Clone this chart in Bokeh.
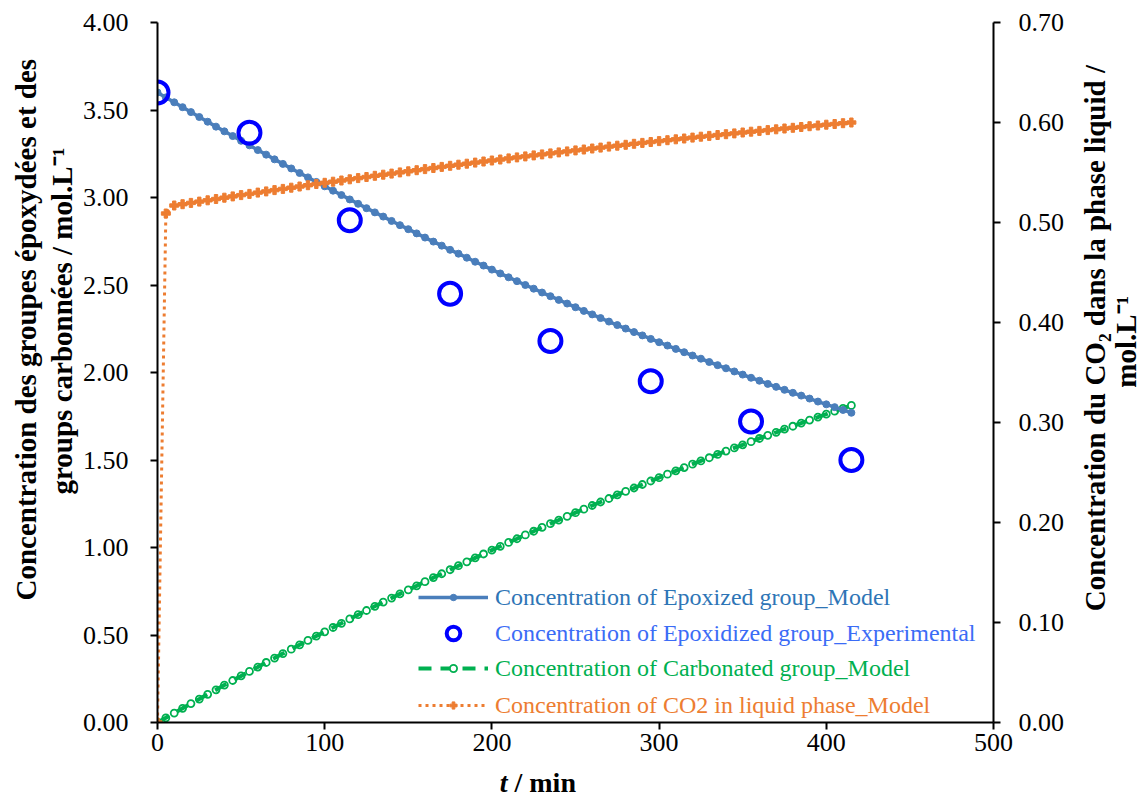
from bokeh.plotting import figure
from bokeh.models import (Range1d, LinearAxis, Legend, LegendItem, Title,
                          FixedTicker, NumeralTickFormatter)
from bokeh.layouts import row, column
from bokeh.core.properties import value
from bokeh.embed import file_html
from bokeh.resources import INLINE
import math

# ---------------- data ----------------
t_model = list(range(0, 420, 5))

epoxy_model = [
    3.600, 3.572, 3.544, 3.516, 3.488, 3.460, 3.433, 3.405, 3.378, 3.351,
    3.324, 3.298, 3.271, 3.245, 3.218, 3.192, 3.166, 3.140, 3.115, 3.089,
    3.064, 3.039, 3.014, 2.989, 2.964, 2.939, 2.915, 2.891, 2.866, 2.842,
    2.819, 2.795, 2.771, 2.748, 2.725, 2.701, 2.679, 2.656, 2.633, 2.611,
    2.588, 2.566, 2.544, 2.522, 2.500, 2.479, 2.457, 2.436, 2.415, 2.394,
    2.373, 2.352, 2.332, 2.311, 2.291, 2.271, 2.251, 2.231, 2.212, 2.192,
    2.173, 2.154, 2.135, 2.116, 2.097, 2.079, 2.060, 2.042, 2.024, 2.006,
    1.988, 1.970, 1.953, 1.935, 1.918, 1.901, 1.884, 1.868, 1.851, 1.834,
    1.818, 1.802, 1.786, 1.770,
]

carbonated_model = [
    0.000, 0.027, 0.054, 0.081, 0.108, 0.134, 0.161, 0.187, 0.214, 0.240,
    0.266, 0.292, 0.317, 0.343, 0.368, 0.394, 0.419, 0.444, 0.469, 0.494,
    0.518, 0.543, 0.567, 0.592, 0.616, 0.640, 0.664, 0.688, 0.711, 0.735,
    0.758, 0.781, 0.805, 0.828, 0.850, 0.873, 0.896, 0.918, 0.941, 0.963,
    0.985, 1.007, 1.029, 1.050, 1.072, 1.093, 1.115, 1.136, 1.157, 1.178,
    1.199, 1.219, 1.240, 1.260, 1.280, 1.301, 1.321, 1.340, 1.360, 1.380,
    1.399, 1.419, 1.438, 1.457, 1.476, 1.495, 1.513, 1.532, 1.551, 1.569,
    1.587, 1.605, 1.623, 1.641, 1.658, 1.676, 1.693, 1.711, 1.728, 1.745,
    1.762, 1.779, 1.795, 1.812,
]

co2_model = [
    0.0000, 0.5090, 0.5170, 0.5183, 0.5196, 0.5209, 0.5222, 0.5235, 0.5248, 0.5261,
    0.5274, 0.5286, 0.5299, 0.5311, 0.5324, 0.5336, 0.5348, 0.5360, 0.5373, 0.5385,
    0.5397, 0.5408, 0.5420, 0.5432, 0.5444, 0.5455, 0.5467, 0.5478, 0.5489, 0.5501,
    0.5512, 0.5523, 0.5534, 0.5545, 0.5556, 0.5567, 0.5578, 0.5588, 0.5599, 0.5610,
    0.5620, 0.5630, 0.5641, 0.5651, 0.5661, 0.5671, 0.5681, 0.5691, 0.5701, 0.5711,
    0.5721, 0.5730, 0.5740, 0.5749, 0.5759, 0.5768, 0.5777, 0.5787, 0.5796, 0.5805,
    0.5814, 0.5823, 0.5832, 0.5840, 0.5849, 0.5858, 0.5866, 0.5875, 0.5883, 0.5891,
    0.5900, 0.5908, 0.5916, 0.5924, 0.5932, 0.5940, 0.5947, 0.5955, 0.5963, 0.5970,
    0.5978, 0.5985, 0.5993, 0.6000,
]

t_exp = [0, 55, 115, 175, 235, 295, 355, 415]
epoxy_exp = [3.60, 3.37, 2.87, 2.45, 2.18, 1.95, 1.72, 1.50]

x_ticks = [0, 100, 200, 300, 400, 500]
left_ticks = [0.0, 0.5, 1.0, 1.5, 2.0, 2.5, 3.0, 3.5, 4.0]
right_ticks = [0.0, 0.1, 0.2, 0.3, 0.4, 0.5, 0.6, 0.7]

labels = [
    "Concentration of Epoxized group_Model",
    "Concentration of Epoxidized group_Experimental",
    "Concentration of Carbonated group_Model",
    "Concentration of CO2 in liquid phase_Model",
]

x_title_var = "t"
x_title_unit = "/ min"
left_title_1 = "Concentration des groupes époxydées et des"
left_title_2 = "groups carbonnées / mol.L⁻¹"
right_title_lines = ["Concentration du CO₂ dans la phase liquid /", "mol.L⁻¹"]

# ---------------- styles ----------------
SERIF = "Liberation Serif"
BLUE_LINE = "#4A7EBB"
BLUE_EXP = "#0000FF"
GREEN = "#00B050"
ORANGE = "#ED7D31"
TICK_SIZE = "26px"
LABEL_SIZE = "29px"
TOTAL_W, TOTAL_H = 1142, 799
MAIN_W = 1070
SIDE_W = TOTAL_W - MAIN_W
MAIN_H = 763
BOTTOM_H = TOTAL_H - MAIN_H

p = figure(width=MAIN_W, height=MAIN_H, output_backend="svg", toolbar_location=None,
           x_range=Range1d(0, 500), y_range=Range1d(0, 4.0),
           min_border_left=157, min_border_right=MAIN_W - 993,
           min_border_top=22, min_border_bottom=MAIN_H - 722)
p.extra_y_ranges = {"co2": Range1d(0, 0.7)}
p.outline_line_color = None
p.grid.visible = False
p.background_fill_color = "white"
p.border_fill_color = "white"


def style_axis(ax, ticks, fmt):
    ax.ticker = FixedTicker(ticks=ticks)
    ax.formatter = NumeralTickFormatter(format=fmt)
    ax.axis_line_color = "black"
    ax.axis_line_width = 2
    ax.major_tick_line_color = "black"
    ax.major_tick_line_width = 2
    ax.major_tick_in = 0
    ax.major_tick_out = 7
    ax.minor_tick_line_color = None
    ax.major_label_text_font = SERIF
    ax.major_label_text_font_size = TICK_SIZE
    ax.major_label_text_color = "black"


style_axis(p.xaxis[0], x_ticks, "0")
p.xaxis[0].major_label_standoff = 4
style_axis(p.yaxis[0], left_ticks, "0.00")
p.yaxis[0].major_label_standoff = 22

right_axis = LinearAxis(y_range_name="co2")
style_axis(right_axis, right_ticks, "0.00")
right_axis.major_label_standoff = 18
p.add_layout(right_axis, "right")

# ---------------- series ----------------
g_sc = p.scatter(t_model, carbonated_model, marker="circle", size=7,
                 line_color=GREEN, line_width=1.8, fill_color="white")
g_ln = p.line(t_model, carbonated_model, line_color=GREEN, line_width=4,
              line_dash="13 9")

b_ln = p.line(t_model, epoxy_model, line_color=BLUE_LINE, line_width=3.5)
b_sc = p.scatter(t_model, epoxy_model, marker="circle", size=7,
                 line_color=BLUE_LINE, fill_color=BLUE_LINE)

o_ln = p.line(t_model, co2_model, line_color=ORANGE, line_width=3,
              line_dash="3 4", y_range_name="co2")
o_sc = p.scatter(t_model, co2_model, marker="plus", size=9,
                 line_color=ORANGE, fill_color=ORANGE, line_width=1,
                 y_range_name="co2")

e_sc = p.scatter(t_exp, epoxy_exp, marker="circle", size=22,
                 line_color=BLUE_EXP, line_width=4, fill_color=None)

# ---------------- legend (one per row, own text colour) ----------------
rows = [
    (labels[0], [b_ln, b_sc], "#2E75B6", 125, 16),
    (labels[1], [e_sc], "#3B6CF6", 89, 34),
    (labels[2], [g_ln, g_sc], GREEN, 54, 18),
    (labels[3], [o_ln, o_sc], ORANGE, 17, 18),
]
for text, rends, col, yc, gh in rows:
    h = 36
    lg = Legend(items=[LegendItem(label=text, renderers=rends)],
                location=(261, yc - h // 2),
                glyph_width=70, glyph_height=gh, label_height=h,
                label_standoff=7, padding=0, margin=0, spacing=0,
                border_line_color=None, background_fill_alpha=0,
                label_text_font=SERIF, label_text_font_size="24px",
                label_text_color=col)
    p.add_layout(lg, "center")

# ---------------- left titles ----------------
def make_title(text, offset, standoff):
    return Title(text=text, align="left", offset=offset, standoff=standoff,
                 text_font=SERIF, text_font_size=LABEL_SIZE,
                 text_font_style="bold", text_color="black")

# the first added sits next to the axis
p.add_layout(make_title(left_title_2, 228, 4), "left")
p.add_layout(make_title(left_title_1, 122, 0), "left")


def blank_panel(w, h):
    f = figure(width=w, height=h, output_backend="svg", toolbar_location=None,
               x_range=Range1d(0, w), y_range=Range1d(0, h), min_border=0)
    f.axis.visible = False
    f.grid.visible = False
    f.outline_line_color = None
    f.background_fill_color = "white"
    f.border_fill_color = "white"
    return f


# ---------------- right-hand axis title (narrow panel) ----------------
side = blank_panel(SIDE_W, MAIN_H)
side.text(x=[24, 55], y=[MAIN_H - 344, MAIN_H - 348], text=right_title_lines,
          angle=math.pi / 2, text_align="center", text_baseline="middle",
          text_font=value(SERIF), text_font_size=value(LABEL_SIZE),
          text_font_style="bold", text_color="black")

# ---------------- x-axis title (bottom strip) ----------------
bottom = blank_panel(TOTAL_W, BOTTOM_H)
bottom.text(x=[507], y=[BOTTOM_H / 2 - 1], text=[x_title_var],
            text_align="right", text_baseline="middle",
            text_font=value(SERIF), text_font_size=value("28px"),
            text_font_style="bold italic", text_color="black")
bottom.text(x=[514], y=[BOTTOM_H / 2 - 1], text=[x_title_unit],
            text_align="left", text_baseline="middle",
            text_font=value(SERIF), text_font_size=value("28px"),
            text_font_style="bold", text_color="black")

layout = column(row(p, side, spacing=0), bottom, spacing=0)
open("out.html", "w").write(file_html(layout, INLINE))
